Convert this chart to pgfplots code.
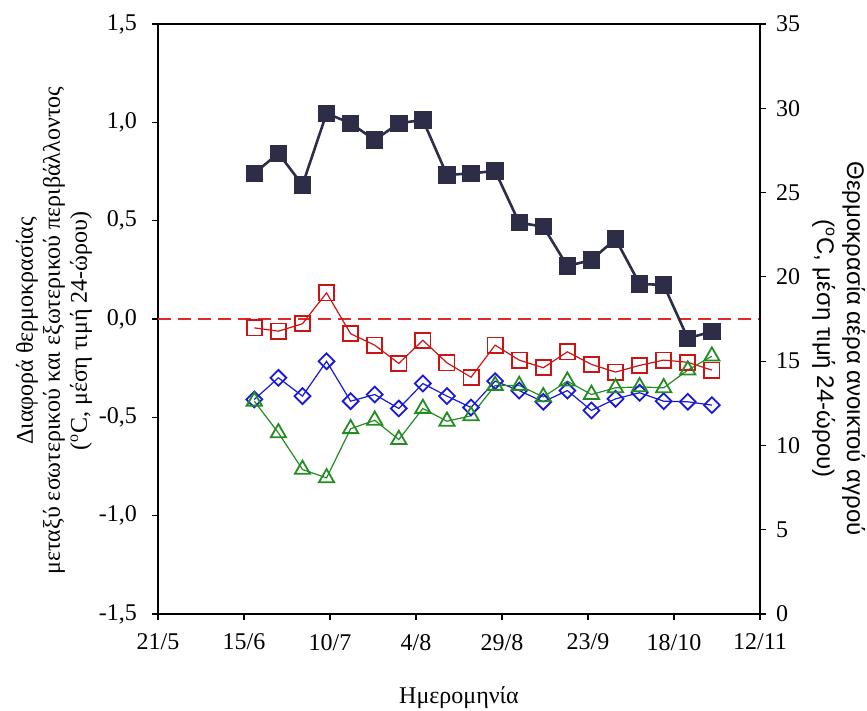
\documentclass[border=0pt]{standalone}
\usepackage{fontspec}
\setmainfont{Liberation Serif}
\newfontfamily\grsans{Liberation Sans}
\usepackage{pgfplots}
\pgfplotsset{compat=1.18}

\definecolor{navyser}{RGB}{45,45,72}
\definecolor{redser}{RGB}{205,20,20}
\definecolor{blueser}{RGB}{25,25,215}
\definecolor{greenser}{RGB}{35,140,35}
\definecolor{zeroline}{RGB}{228,40,40}

% days counted from 21/5
\pgfplotstableread{
day  air    red     blue    green
28   26.14  -0.045  -0.409  -0.418
35   27.33  -0.062  -0.299  -0.579
42   25.45  -0.024  -0.392  -0.765
49   29.70   0.133  -0.215  -0.808
56   29.11  -0.075  -0.418  -0.558
63   28.12  -0.133  -0.384  -0.515
70   29.11  -0.226  -0.455  -0.613
77   29.31  -0.108  -0.328  -0.455
84   26.04  -0.223  -0.392  -0.520
91   26.14  -0.296  -0.450  -0.492
98   26.28  -0.133  -0.316  -0.338
105  23.21  -0.209  -0.364  -0.338
112  22.98  -0.248  -0.421  -0.396
119  20.64  -0.167  -0.364  -0.316
126  21.00  -0.231  -0.465  -0.384
133  22.25  -0.270  -0.406  -0.350
140  19.58  -0.236  -0.375  -0.345
147  19.52  -0.209  -0.418  -0.350
154  16.36  -0.220  -0.421  -0.260
161  16.75  -0.260  -0.438  -0.189
}\datatable

\begin{document}
\begin{tikzpicture}
\pgfplotsset{
  common/.style={
    scale only axis, width=301pt, height=295pt,
    xmin=0, xmax=175,
    tick align=outside, major tick length=3pt,
    tick style={black, line width=0.6pt},
    axis line style={line width=0.6pt},
    tick label style={font=\fontsize{12}{14}\selectfont},
  },
}
\begin{axis}[common, name=ax,
  ymin=-1.5, ymax=1.5,
  xtick={0,25,...,175},
  xticklabels={21/5,15/6,10/7,4/8,29/8,23/9,18/10,12/11},
  xticklabel style={yshift=-3.5pt},
  ytick={-1.5,-1,...,1.5},
  tick pos=left,
  yticklabel style={xshift=-4pt, /pgf/number format/.cd, fixed, fixed zerofill,
    precision=1, use comma, assume math mode=true},
  xlabel={Ημερομηνία},
  xlabel style={font=\fontsize{12}{14}\selectfont, at={(axis description cs:0.5,0)}, yshift=-33pt},
  ylabel={Διαφορά θερμοκρασίας\\μεταξύ εσωτερικού και εξωτερικού περιβάλλοντος\\(\textsuperscript{o}C, μέση τιμή 24-ώρου)},
  ylabel style={font=\fontsize{12}{13.5}\selectfont, align=center,
    at={(axis description cs:-0.098,0.48)}, anchor=south},
]
\addplot[zeroline, line width=1.4pt, dash pattern=on 6.5pt off 3.5pt, forget plot]
  coordinates {(0,0) (175,0)};
\addplot[redser, line width=0.6pt, mark=square,
  mark options={solid, line width=0.9pt}, mark size=3.8pt]
  table[x=day, y=red] {\datatable};
\addplot[blueser, line width=0.6pt, mark=square,
  mark options={solid, line width=0.9pt, rotate=45}, mark size=2.8pt]
  table[x=day, y=blue] {\datatable};
\addplot[greenser, line width=0.6pt, mark=triangle,
  mark options={solid, line width=0.9pt}, mark size=4.4pt]
  table[x=day, y=green] {\datatable};
\end{axis}
\begin{axis}[common,
  ymin=0, ymax=35,
  axis x line=none, axis y line*=right,
  ytick={0,5,...,35},
  yticklabel style={xshift=1.5pt, /pgf/number format/assume math mode=true},
  ylabel={Θερμοκρασία αέρα ανοικτού αγρού\\(\textsuperscript{o}C, μέση τιμή 24-ώρου)},
  ylabel style={font=\grsans\fontsize{12}{15}\selectfont, align=center, rotate=180,
    at={(axis description cs:1.075,0.45)}, anchor=south},
]
\addplot[navyser, line width=1.3pt, mark=square*,
  mark options={solid, fill=navyser, draw=navyser}, mark size=3.7pt]
  table[x=day, y=air] {\datatable};
\end{axis}
\pgfresetboundingbox
\path ([shift={(-79pt,-48.5pt)}]ax.south west) rectangle ([shift={(53.5pt,12pt)}]ax.north east);
\end{tikzpicture}
\end{document}
